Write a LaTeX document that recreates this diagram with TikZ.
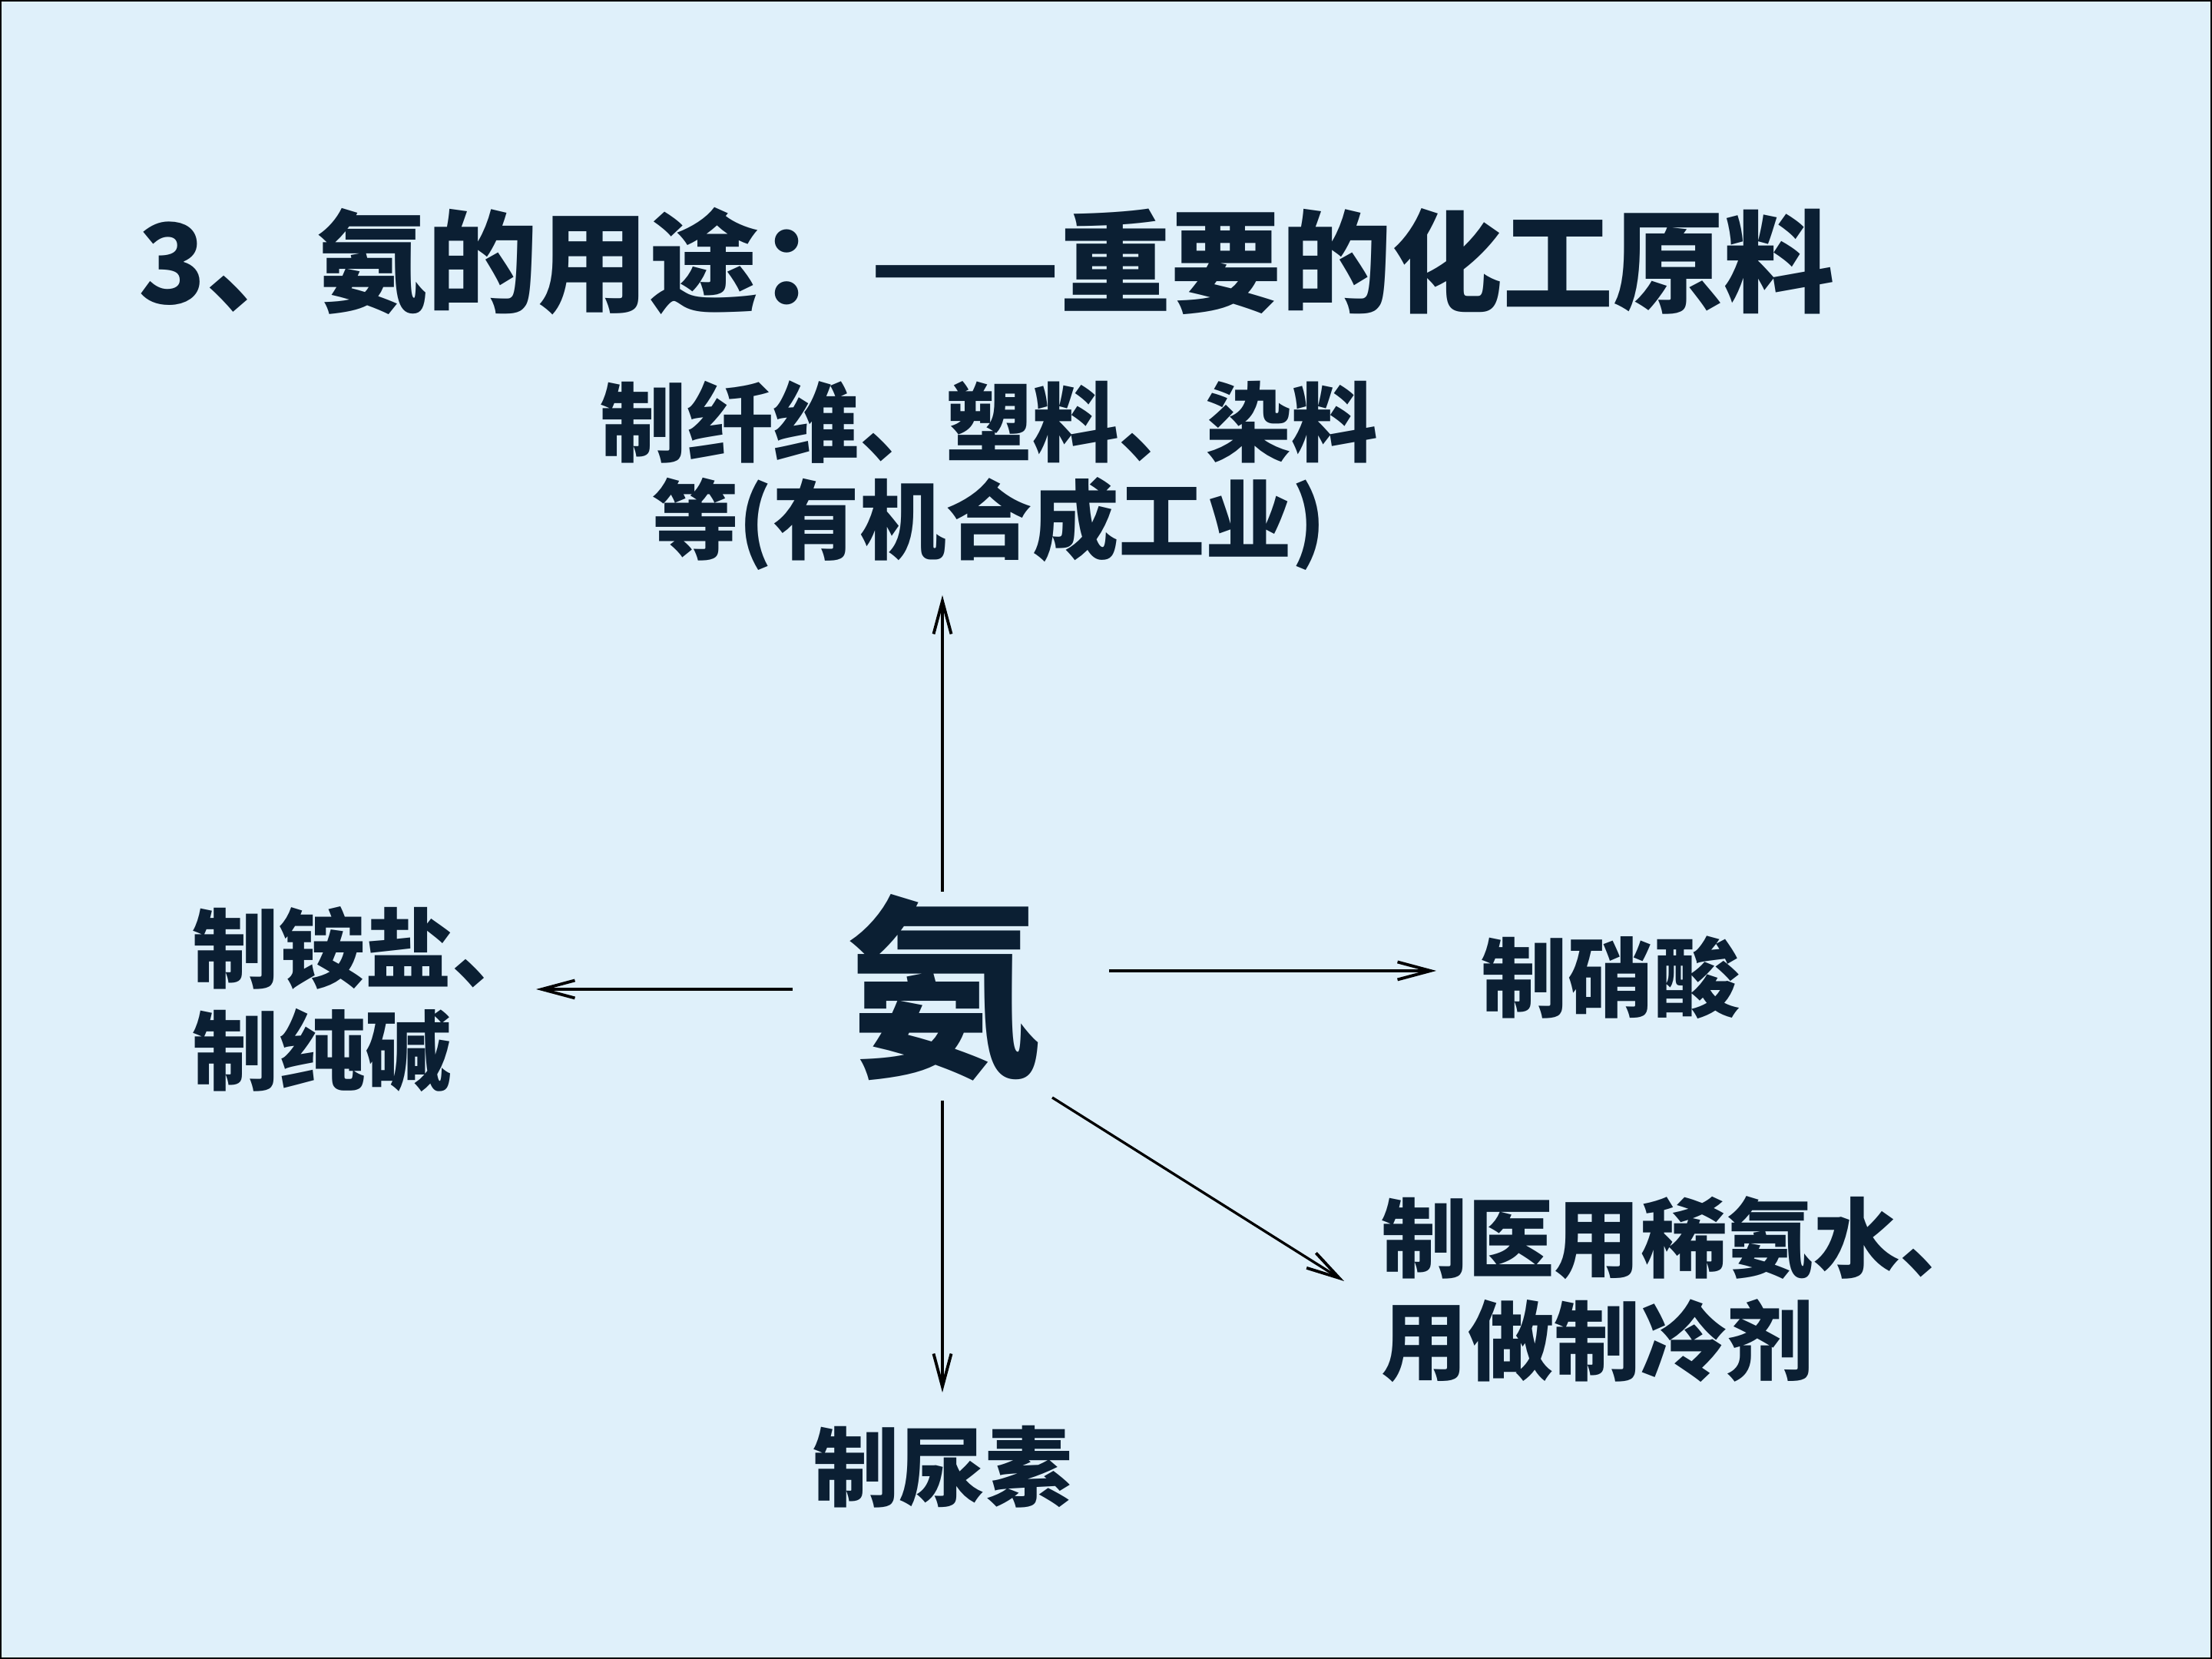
\documentclass[tikz,border=0pt]{standalone}
\usepackage{fontspec}
\setmainfont{Noto Sans CJK SC}
\usetikzlibrary{arrows.meta}
\definecolor{bgblue}{HTML}{DFF0FA}
\definecolor{ink}{HTML}{0B1F33}
\tikzset{
  lbl/.style={text=ink, font=\fontsize{32}{38}\selectfont\bfseries, inner sep=0pt},
  arr/.style={draw=black, line width=0.95pt, -{Straight Barb[length=4.3mm,width=2.3mm,line width=1.1pt]}},
}
\begin{document}
\begin{tikzpicture}
\useasboundingbox (0,0) rectangle (28.8,21.6);
\fill[bgblue] (0,0) rectangle (28.8,21.6);
\draw[black, line width=0.7pt] (0.01,0.01) rectangle (28.79,21.59);

\node[lbl, anchor=west, font=\fontsize{41}{48}\selectfont\bfseries] (title) at (1.80,18.20) {3、氨的用途：——重要的化工原料};

\node[lbl, align=center, font=\fontsize{32}{36}\selectfont\bfseries] (top) at (12.88,15.41) {制纤维、塑料、染料\\等(有机合成工业)};
\node[lbl, font=\fontsize{72}{80}\selectfont\bfseries] (amm) at (12.29,8.74) {氨};
\node[lbl, anchor=west, align=left] (left) at (2.50,8.59) {制铵盐、\\制纯碱};
\node[lbl, anchor=west] (right) at (19.28,8.87) {制硝酸};
\node[lbl, anchor=west, align=left] (diag) at (17.98,4.81) {制医用稀氨水、\\用做制冷剂};
\node[lbl] (bottom) at (12.27,2.50) {制尿素};

\coordinate (uS) at (12.27,9.99);
\coordinate (uE) at (12.27,13.85);
\coordinate (lS) at (10.32,8.72);
\coordinate (lE) at (6.98,8.72);
\coordinate (rS) at (14.44,8.96);
\coordinate (rE) at (18.70,8.96);
\coordinate (dS) at (13.70,7.31);
\coordinate (dE) at (17.50,4.92);
\coordinate (bS) at (12.27,7.27);
\coordinate (bE) at (12.27,3.47);

\draw[arr] (uS) -- (uE);
\draw[arr] (lS) -- (lE);
\draw[arr] (rS) -- (rE);
\draw[arr] (dS) -- (dE);
\draw[arr] (bS) -- (bE);
\end{tikzpicture}
\end{document}
